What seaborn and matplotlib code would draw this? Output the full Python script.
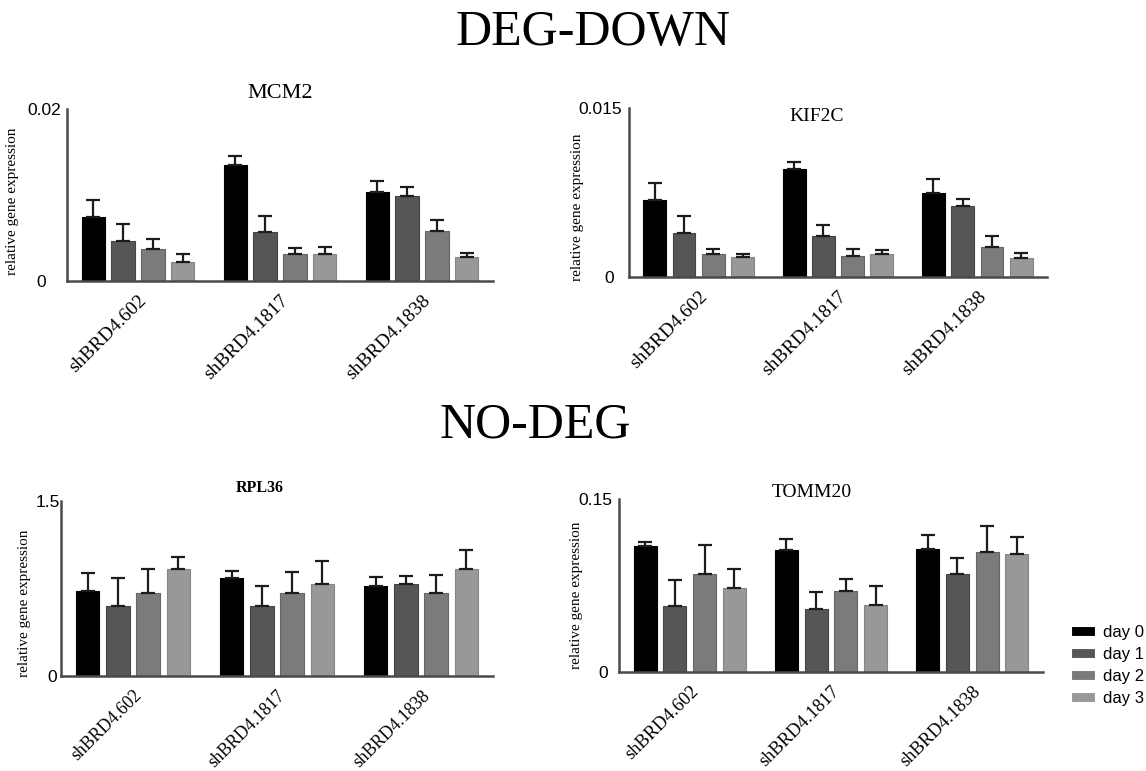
import matplotlib
matplotlib.use("Agg")
import matplotlib.pyplot as plt
from matplotlib.container import BarContainer
import seaborn as sns
import pandas as pd
import numpy as np

# ---- data -------------------------------------------------------------
constructs = ["shBRD4.602", "shBRD4.1817", "shBRD4.1838"]
days = ["day 0", "day 1", "day 2", "day 3"]

# mean expression, one row per construct, one column per day
mcm2_mean = [[0.0074, 0.0046, 0.0037, 0.0022],
             [0.0135, 0.0057, 0.0031, 0.0031],
             [0.0104, 0.0099, 0.0058, 0.0028]]
mcm2_sem = [[0.0020, 0.0020, 0.0012, 0.0009],
            [0.0010, 0.0019, 0.0007, 0.0009],
            [0.0012, 0.0010, 0.0013, 0.0005]]

kif2c_mean = [[0.0068, 0.0039, 0.0020, 0.0018],
              [0.0096, 0.0036, 0.0019, 0.0020],
              [0.0075, 0.0063, 0.0027, 0.0017]]
kif2c_sem = [[0.0015, 0.0015, 0.0005, 0.0002],
             [0.0006, 0.0010, 0.0006, 0.0004],
             [0.0012, 0.0006, 0.0009, 0.0004]]

rpl36_mean = [[0.73, 0.60, 0.71, 0.92],
              [0.84, 0.60, 0.71, 0.79],
              [0.77, 0.79, 0.71, 0.92]]
rpl36_sem = [[0.15, 0.24, 0.21, 0.10],
             [0.06, 0.17, 0.18, 0.20],
             [0.08, 0.07, 0.16, 0.16]]

tomm20_mean = [[0.109, 0.057, 0.085, 0.073],
               [0.106, 0.055, 0.070, 0.058],
               [0.107, 0.085, 0.104, 0.102]]
tomm20_sem = [[0.004, 0.023, 0.025, 0.016],
              [0.009, 0.014, 0.011, 0.017],
              [0.012, 0.014, 0.023, 0.015]]

y_tops = {"MCM2": (0.02, "0.02"), "KIF2C": (0.015, "0.015"),
          "RPL36": (1.5, "1.5"), "TOMM20": (0.15, "0.15")}

# ---- style ------------------------------------------------------------
sns.set_style("white")
plt.rcParams["font.family"] = ["Liberation Serif", "DejaVu Serif"]
for key in ("text.color", "axes.labelcolor", "xtick.color", "ytick.color"):
    plt.rcParams[key] = "black"
SANS = ["Liberation Sans", "DejaVu Sans"]

palette = ["#000000", "#565656", "#7b7b7d", "#98989a"]
edges = ["#000000", "#444444", "#666668", "#858587"]
spine_col = "#4a4a4a"

W, H = 1146, 771
fig = plt.figure(figsize=(W / 100, H / 100), dpi=100)


def px_axes(left, right, top, bottom):
    return fig.add_axes([left / W, 1 - bottom / H, (right - left) / W, (bottom - top) / H])


panels = [
    # name, means, sems, axes box (px), title pos, title size, title weight,
    # ylabel x, ylabel y, pad of "0", pad of top label, x label size
    ("MCM2", mcm2_mean, mcm2_sem, (67, 493, 109, 281), (0.50, 1.093), 16, "normal",
     -0.113, 0.465, 12, 1, 14),
    ("KIF2C", kif2c_mean, kif2c_sem, (629, 1047, 108, 277), (0.45, 0.951), 14, "normal",
     -0.108, 0.414, 7.5, 2, 14),
    ("RPL36", rpl36_mean, rpl36_sem, (61, 493, 501, 676), (0.46, 1.072), 11.5, "bold",
     -0.069, 0.416, 0, -2, 12.8),
    ("TOMM20", tomm20_mean, tomm20_sem, (619, 1043, 499, 672), (0.455, 1.04), 14, "normal",
     -0.085, 0.445, 5, 2, 13.3),
]

for (name, means, sems, box, tpos, tsize, tweight, ylx, yly,
     pad0, padtop, xls) in panels:
    ax = px_axes(*box)
    df = pd.DataFrame({
        "construct": np.repeat(constructs, len(days)),
        "day": days * len(constructs),
        "value": np.ravel(means),
    })
    sns.barplot(data=df, x="construct", y="value", hue="day", order=constructs,
                hue_order=days, palette=palette, width=0.84, gap=0.22,
                errorbar=None, ax=ax, linewidth=0.8, legend=(name == "TOMM20"))

    # bar outlines and upper-only SEM bars
    bar_sets = [c for c in ax.containers if isinstance(c, BarContainer)]
    for j, cont in enumerate(bar_sets):
        for i, bar in enumerate(cont.patches):
            bar.set_edgecolor(edges[j])
            xc = bar.get_x() + bar.get_width() / 2
            ax.errorbar(xc, means[i][j], yerr=[[0], [sems[i][j]]], fmt="none",
                        ecolor="#1c1c1c", elinewidth=1.6, capsize=5, capthick=1.6,
                        zorder=1)

    top, top_label = y_tops[name]
    ax.set_xlim(-0.5, 2.5)
    ax.set_ylim(0, top)
    ax.set_yticks([0, top])
    ax.set_yticklabels(["0", top_label], fontfamily=SANS, fontsize=12.5)
    ax.set_xticks(range(len(constructs)))
    ax.set_xticklabels(constructs, rotation=45, ha="right", va="top",
                       rotation_mode="anchor", fontsize=xls)
    ax.tick_params(axis="x", length=5, width=1.2, color=spine_col, pad=3)
    ax.tick_params(axis="y", length=3, width=1.2, color=spine_col)
    yt = ax.yaxis.get_major_ticks()
    yt[0].set_pad(pad0)
    yt[1].set_pad(padtop)
    ax.set_xlabel("")
    ax.set_ylabel("relative gene expression", fontsize=11)
    ax.yaxis.set_label_coords(ylx, yly)

    sns.despine(ax=ax)
    for side in ("left", "bottom"):
        ax.spines[side].set_color(spine_col)
        ax.spines[side].set_linewidth(1.8)

    ax.text(tpos[0], tpos[1], name, transform=ax.transAxes, ha="center",
            va="center", fontsize=tsize, fontweight=tweight)

    if name == "TOMM20":
        handles, labels = ax.get_legend_handles_labels()
        ax.get_legend().remove()
        fig.legend(handles, labels, loc="upper left",
                   bbox_to_anchor=(1071 / W, 1 - 625 / H), frameon=False,
                   prop={"family": SANS, "size": 12}, handlelength=1.45,
                   handleheight=0.55, handletextpad=0.45, labelspacing=0.42,
                   borderpad=0, borderaxespad=0)

# section headings
fig.text(593 / W, 1 - 33 / H, "DEG-DOWN", ha="center", va="center", fontsize=36)
fig.text(535 / W, 1 - 425 / H, "NO-DEG", ha="center", va="center", fontsize=36)

fig.savefig("out.png", dpi=100, facecolor="white")
